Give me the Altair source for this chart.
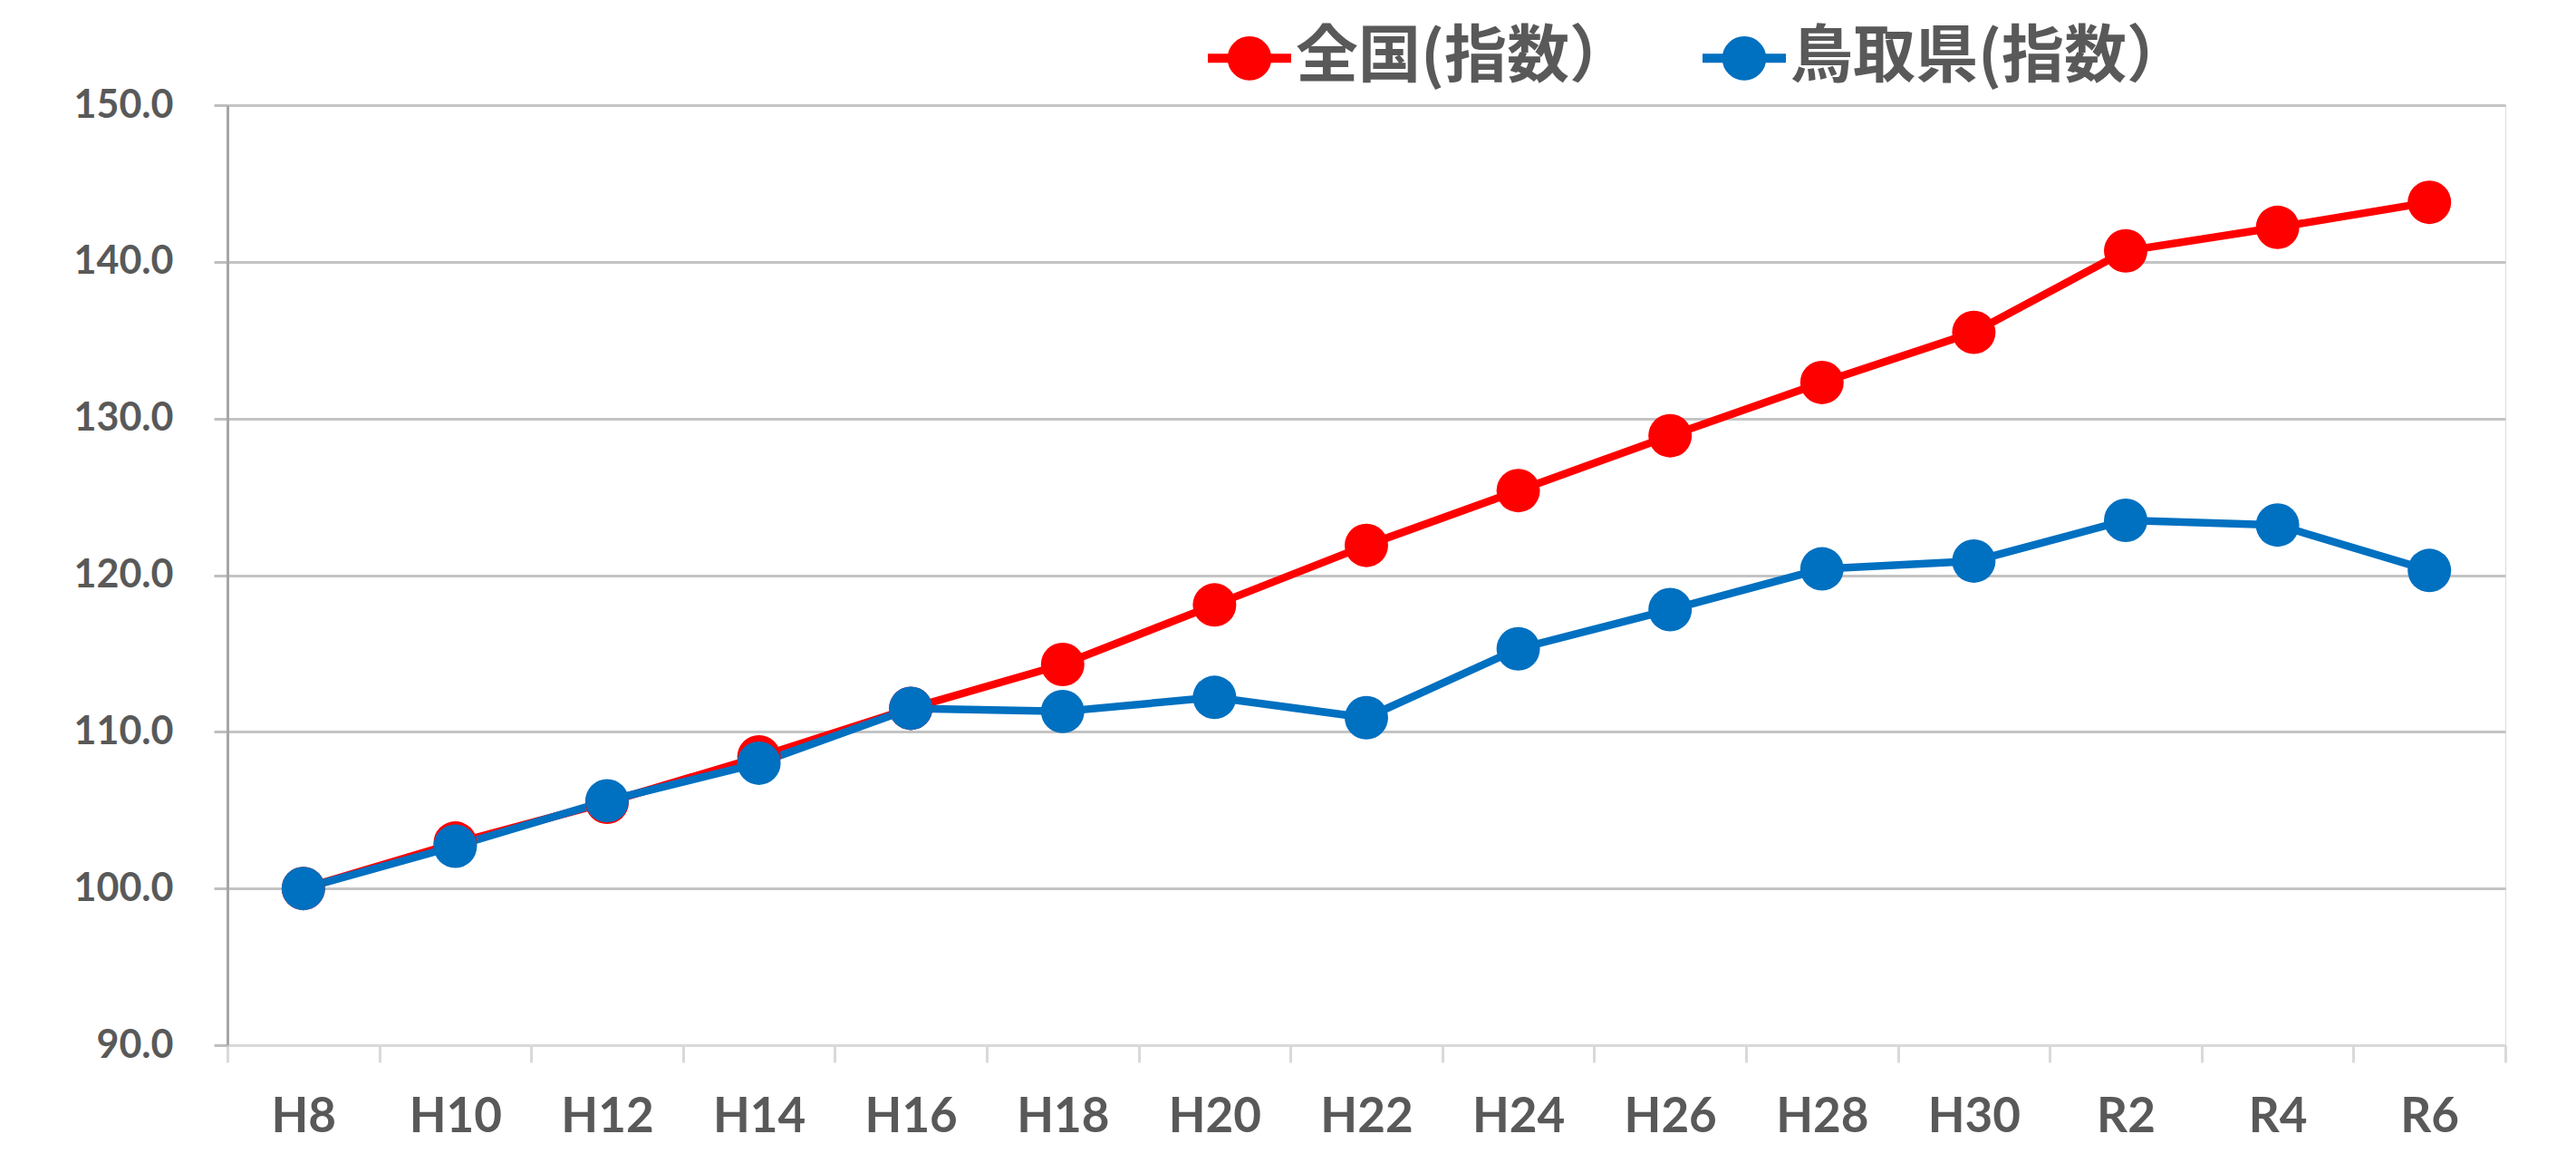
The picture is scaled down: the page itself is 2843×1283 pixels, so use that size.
import altair as alt
import pandas as pd

years = ["H8", "H10", "H12", "H14", "H16", "H18", "H20", "H22", "H24", "H26", "H28", "H30", "R2", "R4", "R6"]
national = [100.0, 102.9, 105.5, 108.4, 111.5, 114.3, 118.1, 121.9, 125.4, 128.9, 132.3, 135.5, 140.7, 142.2, 143.8]
tottori = [100.0, 102.7, 105.6, 108.0, 111.5, 111.3, 112.2, 110.9, 115.3, 117.8, 120.4, 120.9, 123.5, 123.2, 120.3]
series_names = ["全国(指数）", "鳥取県(指数）"]
series_colors = ["#FF0000", "#0070C0"]
y_ticks = [90, 100, 110, 120, 130, 140, 150]

rows = []
for name, vals in zip(series_names, [national, tottori]):
    for i, (yr, v) in enumerate(zip(years, vals)):
        rows.append({"year": yr, "value": v, "series": name, "order": i})
df = pd.DataFrame(rows)

x_enc = alt.X(
    "year:N",
    sort=years,
    scale=alt.Scale(type="band", paddingInner=0, paddingOuter=0),
    axis=alt.Axis(
        title=None,
        labelAngle=0,
        labelFont="Lato",
        labelFontWeight="bold",
        labelFontSize=53,
        labelColor="#595959",
        labelPadding=34,
        tickBand="extent",
        tickSize=19,
        tickColor="#d9d9d9",
        tickWidth=3,
        domainColor="#d9d9d9",
        domainWidth=3,
        grid=False,
    ),
)
y_enc = alt.Y(
    "value:Q",
    scale=alt.Scale(domain=[90, 150], nice=False, zero=False),
    axis=alt.Axis(
        title=None,
        values=y_ticks,
        format=".1f",
        labelFont="Lato",
        labelFontWeight="bold",
        labelFontSize=43,
        labelColor="#595959",
        labelPadding=45,
        tickSize=15,
        tickColor="#bfbfbf",
        tickWidth=3,
        domainColor="#a6a6a6",
        domainWidth=3,
        grid=True,
        gridColor="#c4c4c4",
        gridWidth=3,
    ),
)
color_enc = alt.Color(
    "series:N",
    sort=series_names,
    scale=alt.Scale(domain=series_names, range=series_colors),
    legend=alt.Legend(
        title=None,
        orient="none",
        direction="horizontal",
        legendX=1077,
        legendY=-103,
        symbolType="M-1,0L1,0M0.42,0A0.42,0.42 0 1,1 -0.42,0A0.42,0.42 0 1,1 0.42,0Z",
        symbolSize=8464,
        symbolStrokeWidth=10,
        labelFont="Noto Sans CJK JP",
        labelFontWeight="bold",
        labelFontSize=69,
        labelColor="#595959",
        labelLimit=0,
        labelOffset=0,
        columnPadding=57,
        padding=0,
    ),
)

base = alt.Chart(df).encode(x=x_enc, y=y_enc, color=color_enc, order="order:Q", detail="series:N")
lines = base.mark_line(strokeWidth=8.5)
points = base.mark_point(filled=True, size=2300, opacity=1, shape="circle")

chart = alt.layer(lines, points).properties(
    width=2514,
    height=1037,
    autosize=alt.AutoSizeParams(type="none"),
    padding={"left": 243, "top": 108, "right": 70, "bottom": 122},
).configure_view(stroke=None).configure(background="white")

chart.save("out.html", embed_options={"renderer": "svg", "actions": False})
